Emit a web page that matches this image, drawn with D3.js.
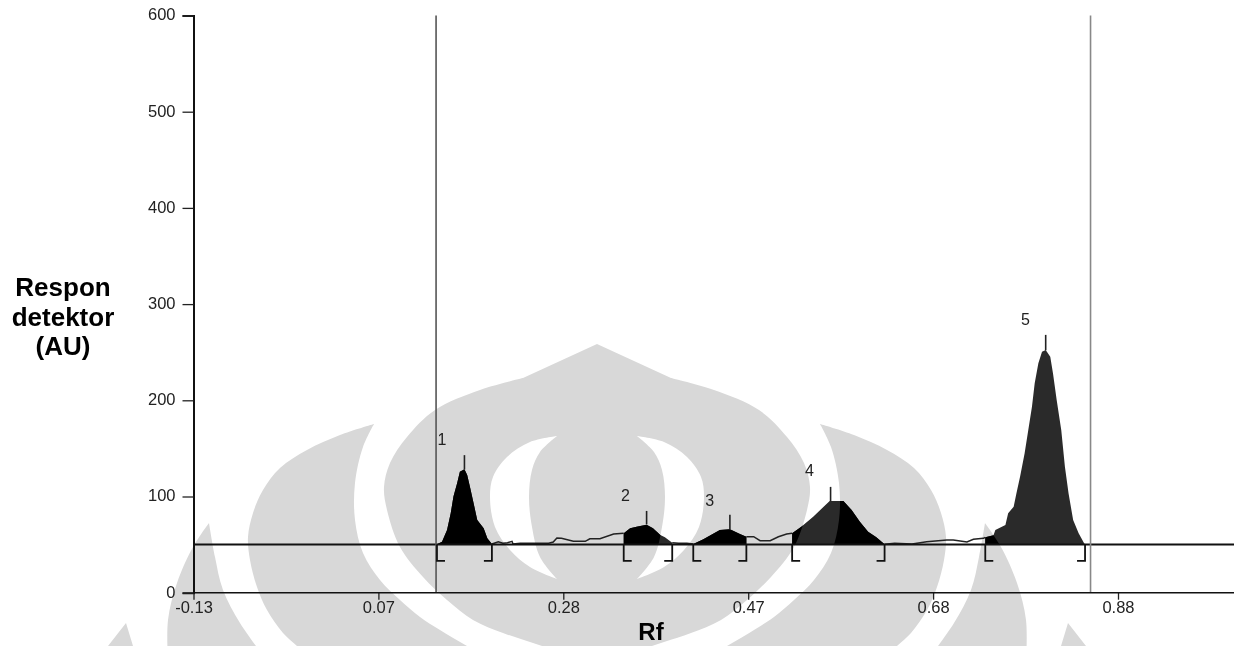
<!DOCTYPE html>
<html>
<head>
<meta charset="utf-8">
<script src="https://cdn.jsdelivr.net/npm/d3@7"></script>
<style>
html,body{margin:0;padding:0;background:#fff;overflow:hidden}
svg{display:block;filter:blur(0.35px)}
text{font-family:"Liberation Sans",Arial,sans-serif}
</style>
</head>
<body>
<svg id="c" width="1234" height="646"></svg>
<script>
// ---- data ----
const yTicks = [0,100,200,300,400,500,600];
const xTickLabels = ["-0.13","0.07","0.28","0.47","0.68","0.88"];
const profileRf = [0.136,0.1415,0.147,0.151,0.154,0.158,0.161,0.166,0.169,0.172,0.176,0.180,0.187,0.191,0.196,
  0.203,0.208,0.213,0.218,0.219,0.227,0.258,0.263,0.267,0.272,0.285,0.298,0.303,0.314,0.329,
  0.340,0.347,0.354,0.365,0.372,0.380,0.385,0.393,0.400,0.409,
  0.416,0.427,0.445,0.456,0.467,0.474,0.482,0.489,0.500,0.509,0.518,
  0.524,0.534,0.547,0.565,0.580,0.589,0.598,0.607,0.616,0.625,
  0.636,0.655,0.671,0.693,0.700,0.715,0.722,0.733,
  0.735,0.744,0.746,0.757,0.760,0.766,0.769,0.773,0.778,0.782,0.786,0.789,0.793,0.797,0.801,0.806,0.809,0.813,0.818,0.822,0.826,0.831,0.837,0.843,0.844];
const profileAU = [50.3,53,65.2,82.6,99.9,113.7,125.8,128.3,122.4,110.2,92.9,75.6,66.9,56.5,50.6,
  53,51.4,52,53.4,50.6,51.4,51.4,52.7,56.9,56.5,53.4,53.4,56.1,56.1,61,
  61.7,66.9,68.6,70.7,66.9,60,57.6,52,51.4,51.4,
  50.6,55.5,65.2,65.9,61,58.2,58.2,54,54,58.2,61,
  61.7,68.6,79,95.3,95.3,86,73.8,63.4,57.6,50.3,
  51.4,50.6,53,54.8,54.8,52.7,55.5,56.5,
  57.6,59.7,65.2,70.4,82.5,89.4,103,120.6,144.9,169.1,193.4,217.7,238.4,250.5,252.3,245.4,227.9,200.2,169.1,131,103,75.6,61.8,51.4,50.3];
const peakNames = ["1","2","3","4","5"];
const peakStart = [0.136,0.340,0.416,0.524,0.735];
const peakEnd   = [0.196,0.393,0.474,0.625,0.844];
const peakApexRf = [0.166,0.365,0.456,0.566,0.801];
const peakApexAU = [128,71,66,95,252];
const peakTickTop = [143,85,81,110,268];
const peakLabelRf = [0.1415,0.342,0.434,0.543,0.779];
const peakLabelAU = [153.5,95.3,90.6,120.8,278.3];
const baselineAU = 50;
const bracketAU = 33;
const frontRf = 0.135;
const endRf = 0.850;

// ---- layout ----
const W = 1234, H = 646;
const x = d3.scaleLinear().domain([-0.13,0.88]).range([193.5,1118]);
const xAxisScale = d3.scalePoint().domain(xTickLabels).range([193.5,1118]);
const y = d3.scaleLinear().domain([0,600]).range([592.7,15.5]);
const svg = d3.select("#c");
const defs = svg.append("defs");

// ---- background emblem (decorative watermark outline, page pixels) ----
const emblemCentreTop = [[597,344],[523,378]];
const emblemCentreSide = [[523,378],[480,390],[435,410],[407,437],[390,463],[384,487],[387,510],[400,547],[423,577],[447,600],[473,620],[503,633],[530,642],[560,652],[597,665]];
const emblemHoleOuter = [[557,436],[530,442],[507,457],[493,477],[490,497],[495,527],[510,550],[530,567],[557,579]];
const emblemHoleInner = [[557,579],[540,557],[532,527],[529,497],[532,470],[540,452],[557,436]];
const emblemLobeOuter = [[374,424],[340,435],[307,450],[280,468],[263,490],[253,513],[248,537],[250,560],[257,587],[267,610],[283,633],[297,646],[315,662]];
const emblemLobeInner = [[495,662],[467,646],[440,630],[420,617],[400,600],[380,580],[363,553],[355,520],[355,483],[363,447],[374,424]];
const emblemWingOuter = [[209,523],[193,547],[177,583],[168,620],[168,662]];
const emblemWingInner = [[268,662],[240,623],[223,590],[215,557],[209,523]];
const emblemTipLeft = [[126,623],[108,646],[98,662]];
const emblemTipRight = [[138,662],[133,646],[126,623]];
const AXIS = 1194;
const mirror = p => p.map(d=>[AXIS-d[0],d[1]]).reverse();
const smooth = d3.line().curve(d3.curveCatmullRom.alpha(0.5));
const straight = d3.line();
function joined(parts){
  return parts.map((p,i)=>{
    const s = (p.straight?straight:smooth)(p.pts);
    return i===0 ? s : "L"+s.slice(1);
  }).join("")+"Z";
}
const S = pts=>({pts,straight:true}), C = pts=>({pts});
function emblemPath(){
  let d = joined([S(emblemCentreTop),C(emblemCentreSide),C(mirror(emblemCentreSide)),S(mirror(emblemCentreTop))]);
  d += joined([C(emblemHoleOuter),C(emblemHoleInner)]);
  d += joined([C(mirror(emblemHoleInner)),C(mirror(emblemHoleOuter))]);
  d += joined([C(emblemLobeOuter),C(emblemLobeInner)]);
  d += joined([C(mirror(emblemLobeInner)),C(mirror(emblemLobeOuter))]);
  d += joined([C(emblemWingOuter),C(emblemWingInner)]);
  d += joined([C(mirror(emblemWingInner)),C(mirror(emblemWingOuter))]);
  d += joined([S(emblemTipLeft),S(emblemTipRight)]);
  d += joined([S(mirror(emblemTipRight)),S(mirror(emblemTipLeft))]);
  return d;
}
const emblem = emblemPath();
svg.append("path").attr("d",emblem).attr("fill","#d8d8d8").attr("fill-rule","evenodd");
defs.append("clipPath").attr("id","emblemClip").append("path").attr("d",emblem).attr("clip-rule","evenodd");

// ---- peaks ----
const profile = profileRf.map((r,i)=>({r,v:profileAU[i]}));
const area = d3.area().x(d=>x(d.r)).y0(y(baselineAU)).y1(d=>y(d.v));
const peaks = peakNames.map((n,i)=>({n,i,pts:profile.filter(d=>d.r>=peakStart[i]&&d.r<=peakEnd[i])}));
svg.append("g").selectAll("path").data(peaks).join("path").attr("d",d=>area(d.pts)).attr("fill","#2a2a2a");
svg.append("g").attr("clip-path","url(#emblemClip)").selectAll("path").data(peaks).join("path").attr("d",d=>area(d.pts)).attr("fill","#000");

// profile between the peaks
const gaps = peakStart.slice(1).map((s,i)=>profile.filter(d=>d.r>=peakEnd[i]&&d.r<=s));
svg.append("g").selectAll("path").data(gaps).join("path")
  .attr("d",d3.line().x(d=>x(d.r)).y(d=>y(d.v)))
  .attr("fill","none").attr("stroke","#222").attr("stroke-width",1.5);

// baseline
svg.append("line").attr("x1",x(-0.13)).attr("x2",W).attr("y1",y(baselineAU)).attr("y2",y(baselineAU))
  .attr("stroke","#111").attr("stroke-width",2);

// front / solvent limits
svg.append("line").attr("x1",x(frontRf)).attr("x2",x(frontRf)).attr("y1",y(600)).attr("y2",y(0)).attr("stroke","#555").attr("stroke-width",1.6);
svg.append("line").attr("x1",x(endRf)).attr("x2",x(endRf)).attr("y1",y(600)).attr("y2",y(0)).attr("stroke","#888").attr("stroke-width",1.6);

// apex ticks
svg.append("g").selectAll("line").data(peaks).join("line")
  .attr("x1",d=>x(peakApexRf[d.i])).attr("x2",d=>x(peakApexRf[d.i]))
  .attr("y1",d=>y(peakApexAU[d.i])).attr("y2",d=>y(peakTickTop[d.i]))
  .attr("stroke","#222").attr("stroke-width",1.6);

// integration brackets
const foot = 8;
const bracket = d3.line();
svg.append("g").selectAll("path.l").data(peaks).join("path").attr("class","l")
  .attr("d",d=>bracket([[x(peakStart[d.i])+foot,y(bracketAU)],[x(peakStart[d.i]),y(bracketAU)],[x(peakStart[d.i]),y(baselineAU)]]))
  .attr("fill","none").attr("stroke","#111").attr("stroke-width",1.8);
svg.append("g").selectAll("path.r").data(peaks).join("path").attr("class","r")
  .attr("d",d=>bracket([[x(peakEnd[d.i])-foot,y(bracketAU)],[x(peakEnd[d.i]),y(bracketAU)],[x(peakEnd[d.i]),y(baselineAU)]]))
  .attr("fill","none").attr("stroke","#111").attr("stroke-width",1.8);

// peak numbers
svg.append("g").selectAll("text").data(peaks).join("text")
  .attr("x",d=>x(peakLabelRf[d.i]))
  .attr("y",d=>y(peakLabelAU[d.i]))
  .attr("text-anchor","middle").attr("font-size",16).attr("fill","#222")
  .text(d=>d.n);

// axes
const gy = svg.append("g").attr("transform","translate(193.5,0)").call(d3.axisLeft(y).tickValues(yTicks).tickSize(11).tickPadding(7));
gy.select(".domain").attr("stroke","#111").attr("stroke-width",2);
gy.selectAll(".tick line").attr("stroke","#222").attr("stroke-width",1.3);
gy.selectAll("text").attr("font-size",16.5).attr("font-family","Liberation Sans").attr("fill","#222").attr("dy","0.27em");

const gx = svg.append("g").attr("transform",`translate(0,${y(0)})`).call(d3.axisBottom(xAxisScale).tickSize(7).tickPadding(2));
gx.select(".domain").remove();
gx.selectAll(".tick line").attr("stroke","#222").attr("stroke-width",1.3);
gx.selectAll("text").attr("font-size",16.5).attr("font-family","Liberation Sans").attr("fill","#222");
svg.append("line").attr("x1",x(-0.13)).attr("x2",W).attr("y1",y(0)).attr("y2",y(0)).attr("stroke","#111").attr("stroke-width",1.5);

// titles
const yTitle = ["Respon","detektor","(AU)"];
svg.append("g").selectAll("text").data(yTitle).join("text")
  .attr("x",63).attr("y",(d,i)=>296+i*29.5).attr("text-anchor","middle")
  .attr("font-size",26).attr("font-weight","bold").attr("fill","#000").text(d=>d);
svg.append("text").attr("x",651).attr("y",640).attr("text-anchor","middle")
  .attr("font-size",24).attr("font-weight","bold").attr("fill","#000").text("Rf");
</script>
</body>
</html>
